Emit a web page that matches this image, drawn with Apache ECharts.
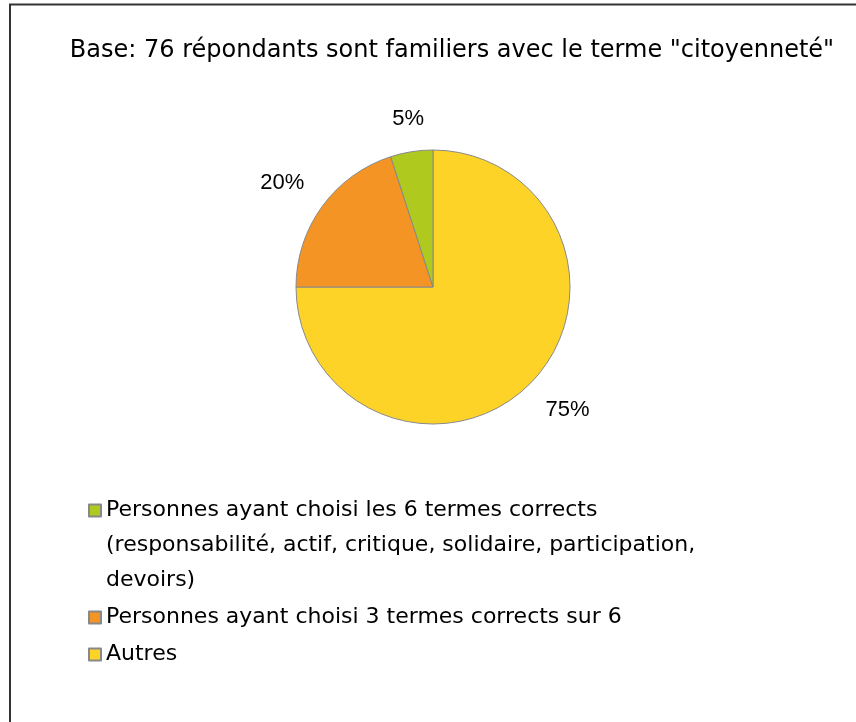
<!DOCTYPE html>
<html>
<head>
<meta charset="utf-8">
<script src="https://cdn.jsdelivr.net/npm/echarts@6/dist/echarts.min.js"></script>
<style>
  html, body { margin: 0; padding: 0; background: #fff; }
  #chart { width: 856px; height: 722px; }
</style>
</head>
<body>
<div id="chart"></div>
<script>
// categories in drawing order (clockwise from 12 o'clock)
var categories = [
    'Autres',
    'Personnes ayant choisi 3 termes corrects sur 6',
    'Personnes ayant choisi les 6 termes corrects\n(responsabilité, actif, critique, solidaire, participation,\ndevoirs)'
]
var values = [75, 20, 5]
var colors = ['#FDD328', '#F39424', '#AFC91E']
var titleText = 'Base: 76 répondants sont familiers avec le terme "citoyenneté"'

var cx = 433, cy = 287, R = 137
var total = values.reduce(function (a, b) { return a + b }, 0)

var myChart = echarts.init(document.getElementById('chart'))
myChart.setOption({
    animation: false,
    title: {
        text: titleText,
        left: 447,
        textAlign: 'center',
        top: 34,
        textStyle: {
            fontFamily: 'DejaVu Sans',
            fontSize: 24,
            fontWeight: 'normal',
            color: '#000'
        }
    },
    legend: {
        data: [categories[2], categories[1], categories[0]],
        orient: 'vertical',
        left: 88,
        top: 423,
        padding: 0,
        itemWidth: 12,
        itemHeight: 12,
        itemGap: 2,
        icon: 'rect',
        // two empty lines above a multi-line name so the square sits on its first line
        formatter: function (name) {
            var n = name.split('\n').length
            return n > 1 ? new Array(n).join('\n') + name : name
        },
        textStyle: {
            fontFamily: 'DejaVu Sans',
            fontSize: 22,
            lineHeight: 35,
            color: '#000'
        }
    },
    graphic: [{
        type: 'polyline',
        shape: { points: [[10, 722], [10, 4.5], [856, 4.5]] },
        style: { stroke: '#333', lineWidth: 2, fill: null }
    }],
    series: [{
        type: 'pie',
        center: [cx, cy],
        radius: R,
        startAngle: 90,
        clockwise: true,
        itemStyle: { borderColor: '#888', borderWidth: 1 },
        label: {
            show: true,
            position: 'outside',
            formatter: '{c}%',
            fontFamily: 'Liberation Sans',
            fontSize: 22,
            color: '#000'
        },
        labelLine: { show: false },
        labelLayout: function (params) {
            var i = params.dataIndex
            var before = 0
            for (var k = 0; k < i; k++) before += values[k]
            var t = (before + values[i] / 2) / total * 2 * Math.PI  // clockwise from top
            var s = Math.sin(t), c = Math.cos(t)
            var d = R + 22
            return {
                x: cx + d * s,
                y: cy - d * c,
                align: Math.abs(s) < 0.3 ? 'center' : (s > 0 ? 'left' : 'right'),
                verticalAlign: Math.abs(c) < 0.3 ? 'middle' : (c > 0 ? 'bottom' : 'top')
            }
        },
        emphasis: { disabled: true },
        data: categories.map(function (name, i) {
            return { name: name, value: values[i], itemStyle: { color: colors[i] } }
        })
    }]
})
</script>
</body>
</html>
